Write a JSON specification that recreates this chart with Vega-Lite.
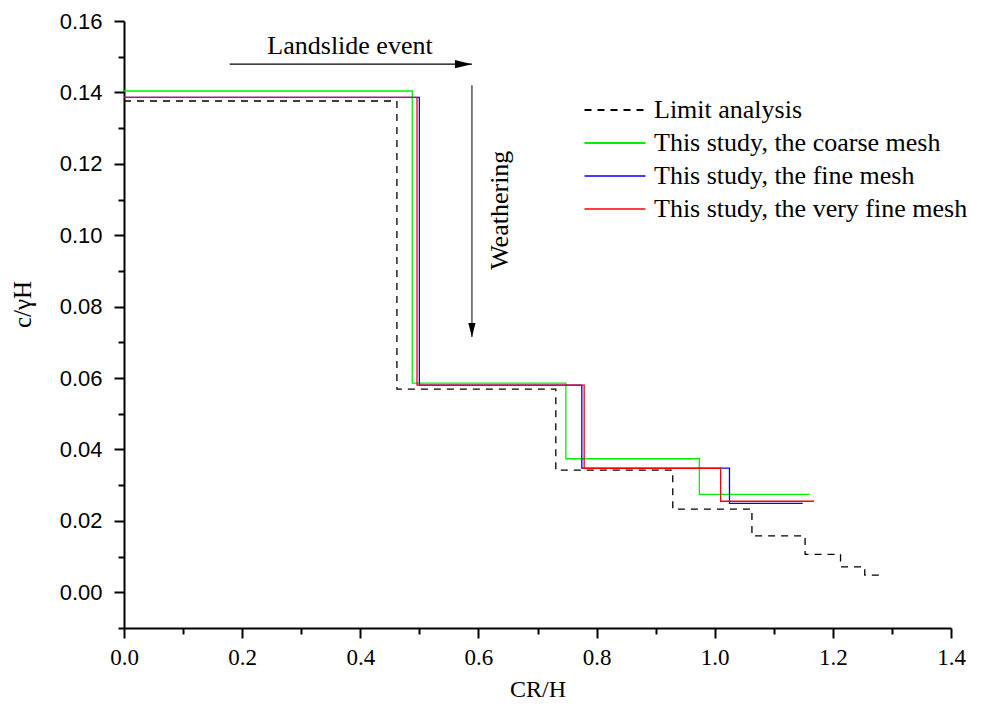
{
  "$schema": "https://vega.github.io/schema/vega-lite/v6.json",
  "width": 827,
  "height": 607,
  "autosize": {"type": "none"},
  "padding": {"left": 124, "top": 21, "right": 31, "bottom": 83},
  "background": "white",
  "config": {
    "view": {"stroke": null},
    "axis": {"domainColor": "black", "tickColor": "black", "domainWidth": 2, "tickWidth": 2, "grid": false, "labelColor": "black", "titleColor": "black"}
  },
  "resolve": {"axis": {"y": "independent"}},
  "layer": [
    {
      "data": {
        "values": [
          {"x": 0, "y": 0.1376, "series": "Limit analysis"},
          {"x": 0.462, "y": 0.0569, "series": "Limit analysis"},
          {"x": 0.731, "y": 0.0342, "series": "Limit analysis"},
          {"x": 0.929, "y": 0.0233, "series": "Limit analysis"},
          {"x": 1.063, "y": 0.0158, "series": "Limit analysis"},
          {"x": 1.153, "y": 0.0106, "series": "Limit analysis"},
          {"x": 1.213, "y": 0.0071, "series": "Limit analysis"},
          {"x": 1.254, "y": 0.0048, "series": "Limit analysis"},
          {"x": 1.28, "y": 0.0048, "series": "Limit analysis"},
          {"x": 0, "y": 0.1404, "series": "This study, the coarse mesh"},
          {"x": 0.488, "y": 0.0586, "series": "This study, the coarse mesh"},
          {"x": 0.748, "y": 0.0374, "series": "This study, the coarse mesh"},
          {"x": 0.974, "y": 0.0274, "series": "This study, the coarse mesh"},
          {"x": 1.161, "y": 0.0274, "series": "This study, the coarse mesh"},
          {"x": 0, "y": 0.1386, "series": "This study, the fine mesh"},
          {"x": 0.5, "y": 0.058, "series": "This study, the fine mesh"},
          {"x": 0.775, "y": 0.0348, "series": "This study, the fine mesh"},
          {"x": 1.025, "y": 0.0249, "series": "This study, the fine mesh"},
          {"x": 1.149, "y": 0.0249, "series": "This study, the fine mesh"},
          {"x": 0, "y": 0.1386, "series": "This study, the very fine mesh"},
          {"x": 0.496, "y": 0.058, "series": "This study, the very fine mesh"},
          {"x": 0.779, "y": 0.0347, "series": "This study, the very fine mesh"},
          {"x": 1.01, "y": 0.0255, "series": "This study, the very fine mesh"},
          {"x": 1.168, "y": 0.0255, "series": "This study, the very fine mesh"}
        ]
      },
      "mark": {"type": "line", "interpolate": "step-after", "strokeWidth": 1.3},
      "encoding": {
        "x": {
          "field": "x", "type": "quantitative",
          "scale": {"domain": [0, 1.4], "nice": false, "zero": false},
          "axis": {
            "title": "CR/H",
            "values": [0, 0.1, 0.2, 0.3, 0.4, 0.5, 0.6, 0.7, 0.8, 0.9, 1.0, 1.1, 1.2, 1.3, 1.4],
            "labelExpr": "round(datum.value*10)%2==0 ? format(datum.value,'.1f') : ''",
            "tickSize": {"condition": {"test": "round(datum.value*10)%2==0", "value": 10}, "value": 6},
            "labelFont": "Liberation Serif", "labelFontSize": 23, "labelPadding": 8,
            "titleFont": "Liberation Serif", "titleFontSize": 24, "titleFontWeight": "normal", "titlePadding": 8,
            "labelFlush": false, "labelOverlap": false
          }
        },
        "y": {
          "field": "y", "type": "quantitative",
          "scale": {"domain": [-0.01, 0.16], "nice": false, "zero": false},
          "axis": {
            "orient": "left",
            "title": "c/γH",
            "values": [0, 0.02, 0.04, 0.06, 0.08, 0.1, 0.12, 0.14, 0.16],
            "format": ".2f",
            "tickSize": 10,
            "labelFont": "Liberation Sans", "labelFontSize": 22, "labelPadding": 12,
            "titleFont": "Liberation Serif", "titleFontSize": 25, "titleFontWeight": "normal", "titlePadding": 24,
            "titleY": 283,
            "labelFlush": false, "labelOverlap": false
          }
        },
        "color": {
          "field": "series", "type": "nominal",
          "scale": {
            "domain": ["Limit analysis", "This study, the coarse mesh", "This study, the fine mesh", "This study, the very fine mesh"],
            "range": ["#000000", "#00ee00", "#0000ff", "#ff0000"]
          },
          "legend": {
            "title": null, "orient": "none", "legendX": 478, "legendY": 76,
            "symbolType": "M-3,0H3", "symbolSize": 413, "symbolStrokeWidth": 1.5,
            "labelFont": "Liberation Serif", "labelFontSize": 26, "labelColor": "black", "labelOffset": 26,
            "rowPadding": 7, "padding": 0, "labelLimit": 500
          }
        },
        "strokeDash": {
          "field": "series", "type": "nominal",
          "scale": {
            "domain": ["Limit analysis", "This study, the coarse mesh", "This study, the fine mesh", "This study, the very fine mesh"],
            "range": [[7, 6], [1, 0], [1, 0], [1, 0]]
          },
          "legend": {
            "title": null, "orient": "none", "legendX": 478, "legendY": 76,
            "symbolType": "M-3,0H3", "symbolSize": 413, "symbolStrokeWidth": 1.5,
            "labelFont": "Liberation Serif", "labelFontSize": 26, "labelColor": "black", "labelOffset": 26,
            "rowPadding": 7, "padding": 0, "labelLimit": 500
          }
        },
        "strokeWidth": {
          "field": "series", "type": "nominal",
          "scale": {
            "domain": ["Limit analysis", "This study, the coarse mesh", "This study, the fine mesh", "This study, the very fine mesh"],
            "range": [2, 1.3, 1.3, 1.3]
          },
          "legend": null
        }
      }
    },
    {
      "data": {"values": [{"x": 0.179, "x2": 0.589, "y": 0.1479}]},
      "mark": {"type": "rule", "color": "black", "strokeWidth": 1.2},
      "encoding": {
        "x": {"field": "x", "type": "quantitative"},
        "x2": {"field": "x2"},
        "y": {"field": "y", "type": "quantitative", "axis": null}
      }
    },
    {
      "data": {"values": [{"x": 0.589, "y": 0.142, "y2": 0.0715}]},
      "mark": {"type": "rule", "color": "#555555", "strokeWidth": 1.5},
      "encoding": {
        "x": {"field": "x", "type": "quantitative"},
        "y": {"field": "y", "type": "quantitative", "axis": null},
        "y2": {"field": "y2"}
      }
    },
    {
      "data": {"values": [{"x": 0.589, "y": 0.1479}]},
      "mark": {"type": "point", "shape": "M0,0L-1,-0.24L-1,0.24Z", "filled": true, "color": "black", "opacity": 1, "size": 1156, "strokeWidth": 0},
      "encoding": {
        "x": {"field": "x", "type": "quantitative"},
        "y": {"field": "y", "type": "quantitative", "axis": null}
      }
    },
    {
      "data": {"values": [{"x": 0.589, "y": 0.0715}]},
      "mark": {"type": "point", "shape": "M0,0L-0.26,-1L0.26,-1Z", "filled": true, "color": "black", "opacity": 1, "size": 784, "strokeWidth": 0},
      "encoding": {
        "x": {"field": "x", "type": "quantitative"},
        "y": {"field": "y", "type": "quantitative", "axis": null}
      }
    },
    {
      "data": {"values": [{"x": 0.3826, "y": 0.153, "label": "Landslide event"}]},
      "mark": {"type": "text", "font": "Liberation Serif", "fontSize": 26, "align": "center", "baseline": "middle", "color": "black"},
      "encoding": {
        "x": {"field": "x", "type": "quantitative"},
        "y": {"field": "y", "type": "quantitative", "axis": null},
        "text": {"field": "label"}
      }
    },
    {
      "data": {"values": [{"x": 0.6365, "y": 0.107, "label": "Weathering"}]},
      "mark": {"type": "text", "font": "Liberation Serif", "fontSize": 26, "align": "center", "baseline": "middle", "angle": 270, "color": "black"},
      "encoding": {
        "x": {"field": "x", "type": "quantitative"},
        "y": {
          "field": "y", "type": "quantitative",
          "axis": {
            "orient": "left", "title": null, "labels": false, "domain": false,
            "values": [-0.01, 0.01, 0.03, 0.05, 0.07, 0.09, 0.11, 0.13, 0.15],
            "tickSize": 6
          }
        },
        "text": {"field": "label"}
      }
    }
  ]
}
